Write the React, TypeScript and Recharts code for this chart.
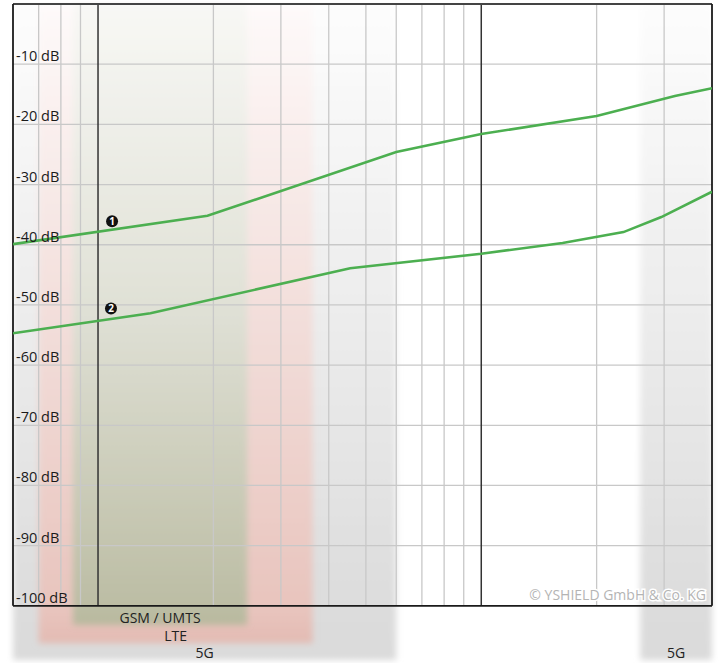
import React from 'react';
import { ComposedChart, Line, XAxis, YAxis, ReferenceLine, ReferenceArea, ReferenceDot } from 'recharts';

// attenuation curves, frequency in GHz, level in dB
const CURVE1_FREQ = [0.6, 1.93, 6, 10, 20, 32, 40];
const CURVE1_DB = [-39.9, -35.2, -24.6, -21.6, -18.6, -15.3, -14.0];
const CURVE2_FREQ = [0.6, 1.37, 4.55, 10, 16.3, 23.5, 29.5, 40];
const CURVE2_DB = [-54.7, -51.4, -43.9, -41.5, -39.7, -37.9, -35.4, -31.2];

const DB_TICKS = [-10, -20, -30, -40, -50, -60, -70, -80, -90];
const DB_LABELS = ['-10 dB', '-20 dB', '-30 dB', '-40 dB', '-50 dB', '-60 dB', '-70 dB', '-80 dB', '-90 dB'];
const MINOR_FREQ = [0.7, 0.8, 0.9, 2, 3, 4, 5, 6, 7, 8, 9, 20, 30];
const DECADE_FREQ = [1, 10];

const BAND_NAMES = ['5G', '5G', 'LTE', 'GSM / UMTS'];
const BAND_FROM = [0.6, 26, 0.7, 0.86];
const BAND_TO = [6, 40, 3.63, 2.45];
const BAND_BOTTOM = [-109, -109, -106.2, -103.2];

const toPoints = (f: number[], db: number[]) => f.map((v, i) => ({ f: v, db: db[i] }));
const curve1 = toPoints(CURVE1_FREQ, CURVE1_DB);
const curve2 = toPoints(CURVE2_FREQ, CURVE2_DB);

const FONT = '"Open Sans", "Noto Sans", sans-serif';
const F_MIN = 0.6;
const F_MAX = 40;
const BAND_GRAD = ['g5g', 'g5g', 'glte', 'ggsm'];

const Copyright = (props: any) => {
  const vb = props.viewBox || {};
  return (
    <text
      x={vb.x + vb.width - 6}
      y={vb.y - 6}
      textAnchor="end"
      fontFamily={FONT}
      fontSize={14}
      fill="#b4b4b4"
      stroke="#fff"
      strokeWidth={3}
      paintOrder="stroke"
    >
      © YSHIELD GmbH &amp; Co. KG
    </text>
  );
};

export default function App() {
  return (
    <div style={{ position: 'absolute', left: 0, top: 0, background: '#fff' }}>
      <ComposedChart width={723} height={663} margin={{ top: 4, right: 11, bottom: 0, left: 13 }}>
        <defs>
          <linearGradient id="g5g" x1="0" y1="0" x2="0" y2="1">
            <stop offset="0" stopColor="#fdfdfd" />
            <stop offset="0.93" stopColor="#dcdcdc" />
            <stop offset="1" stopColor="#dadada" />
          </linearGradient>
          <linearGradient id="glte" x1="0" y1="0" x2="0" y2="1">
            <stop offset="0" stopColor="#fefafa" />
            <stop offset="0.95" stopColor="#e8c4bd" />
            <stop offset="1" stopColor="#e3bbb3" />
          </linearGradient>
          <linearGradient id="ggsm" x1="0" y1="0" x2="0" y2="1">
            <stop offset="0" stopColor="#f8f8f5" />
            <stop offset="0.5" stopColor="#dfe0d5" />
            <stop offset="0.97" stopColor="#bcbda4" />
            <stop offset="1" stopColor="#b8b99e" />
          </linearGradient>
          <filter id="soft" x="-10%" y="-10%" width="120%" height="120%">
            <feGaussianBlur stdDeviation="3" />
          </filter>
        </defs>
        <XAxis type="number" dataKey="f" scale="log" domain={[F_MIN, F_MAX]} allowDataOverflow hide />
        <YAxis type="number" dataKey="db" domain={[-109.5, 0]} allowDataOverflow hide />

        {BAND_NAMES.map((name, i) => (
          <ReferenceArea
            key={'band' + i}
            x1={BAND_FROM[i]}
            x2={BAND_TO[i]}
            y1={BAND_BOTTOM[i]}
            y2={0}
            fill={`url(#${BAND_GRAD[i]})`}
            fillOpacity={1}
            stroke="none"
            filter="url(#soft)"
            label={{ value: name, position: 'insideBottom', offset: 2, fontSize: 14, fill: '#222', fontFamily: FONT }}
          />
        ))}

        {MINOR_FREQ.map((f) => (
          <ReferenceLine key={'mf' + f} segment={[{ x: f, y: 0 }, { x: f, y: -100 }]} stroke="#c8c8c8" strokeWidth={1.3} />
        ))}
        {DB_TICKS.map((d, i) => (
          <ReferenceLine
            key={'db' + d}
            y={d}
            stroke="#c8c8c8"
            strokeWidth={1.3}
            label={{ value: DB_LABELS[i], position: 'insideBottomLeft', offset: 3, fontSize: 14.5, fill: '#1a1a1a', fontFamily: FONT }}
          />
        ))}
        {DECADE_FREQ.map((f) => (
          <ReferenceLine key={'dec' + f} segment={[{ x: f, y: 0 }, { x: f, y: -100 }]} stroke="#333" strokeWidth={1.5} />
        ))}

        <ReferenceLine y={0} stroke="#444" strokeWidth={2} />
        <ReferenceLine
          y={-100}
          stroke="#1a1a1a"
          strokeWidth={1.8}
          label={{ value: '-100 dB', position: 'insideBottomLeft', offset: 3, fontSize: 14.5, fill: '#1a1a1a', fontFamily: FONT }}
        />
        <ReferenceLine y={-100} stroke="none" label={<Copyright />} />
        <ReferenceLine segment={[{ x: F_MIN, y: 0 }, { x: F_MIN, y: -100 }]} stroke="#1a1a1a" strokeWidth={1.8} />
        <ReferenceLine segment={[{ x: F_MAX, y: 0 }, { x: F_MAX, y: -100 }]} stroke="#1a1a1a" strokeWidth={1.8} />

        <Line data={curve1} dataKey="db" type="linear" stroke="#4caf50" strokeWidth={2.6} dot={false} isAnimationActive={false} />
        <Line data={curve2} dataKey="db" type="linear" stroke="#4caf50" strokeWidth={2.6} dot={false} isAnimationActive={false} />

        <ReferenceDot x={1.088} y={-36.1} r={6} fill="#111" stroke="none"
          label={{ value: '1', position: 'center', fill: '#fff', fontSize: 10, fontWeight: 700, fontFamily: FONT }} />
        <ReferenceDot x={1.081} y={-50.6} r={6} fill="#111" stroke="none"
          label={{ value: '2', position: 'center', fill: '#fff', fontSize: 10, fontWeight: 700, fontFamily: FONT }} />
      </ComposedChart>
    </div>
  );
}
